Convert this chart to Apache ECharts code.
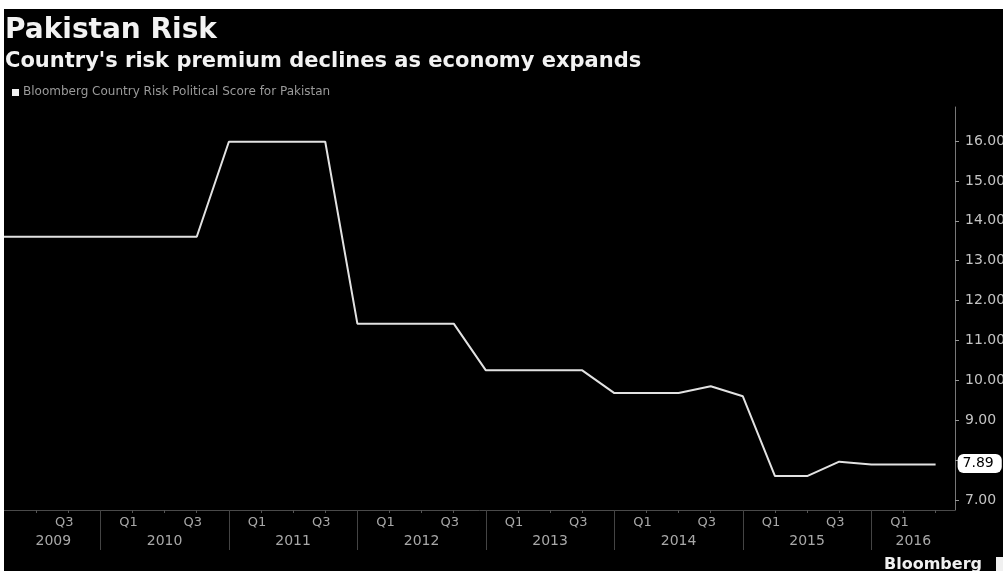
<!DOCTYPE html>
<html>
<head>
<meta charset="utf-8">
<script src="https://cdn.jsdelivr.net/npm/echarts@6/dist/echarts.min.js"></script>
<style>
html,body{margin:0;padding:0;background:#fff;}
#c{width:1003px;height:571px;}
</style>
</head>
<body>
<div id="c"></div>
<script>
// Data: quarterly Bloomberg Country Risk Political Score for Pakistan
const dates = ['2009-04','2009-07','2009-10','2010-01','2010-04','2010-07','2010-10',
  '2011-01','2011-04','2011-07','2011-10','2012-01','2012-04','2012-07','2012-10',
  '2013-01','2013-04','2013-07','2013-10','2014-01','2014-04','2014-07','2014-10',
  '2015-01','2015-04','2015-07','2015-10','2016-01','2016-04','2016-07'];
const scores = [13.6,13.6,13.6,13.6,13.6,13.6,13.6,
  15.98,15.98,15.98,15.98,11.42,11.42,11.42,11.42,
  10.25,10.25,10.25,10.25,9.68,9.68,9.68,9.85,
  9.6,7.6,7.6,7.96,7.89,7.89,7.89];
const yTicks = [7,8,9,10,11,12,13,14,15,16];
const quarterLabelAt = [2009.5,2010,2010.5,2011,2011.5,2012,2012.5,2013,2013.5,2014,2014.5,2015,2015.5,2016];
const quarterTicks = [2009.5,2009.75,2010,2010.25,2010.5,2010.75,2011,2011.25,2011.5,2011.75,2012,2012.25,2012.5,2012.75,2013,2013.25,2013.5,2013.75,2014,2014.25,2014.5,2014.75,2015,2015.25,2015.5,2015.75,2016,2016.25,2016.5];
const yearTicks = [2010,2011,2012,2013,2014,2015,2016];
const yearLabelAt = [2009.634,2010.5,2011.5,2012.5,2013.5,2014.5,2015.5,2016.327];

function toYear(s){const p=s.split('-');return +p[0]+(+p[1]-1)/12;}
const seriesData = dates.map((d,i)=>[toYear(d), scores[i]]);

const chart = echarts.init(document.getElementById('c'), null, {renderer:'canvas'});
const FONT = 'DejaVu Sans';
chart.setOption({
  backgroundColor:'#000',
  animation:false,
  grid:{left:4,right:48,top:107,bottom:61,containLabel:false,outerBoundsMode:'none'},
  xAxis:[{
    type:'value', min:2009.25, max:2016.651, interval:0.25,
    axisLine:{show:true,lineStyle:{color:'#4a4a4a',width:1}},
    axisTick:{show:true,length:3,lineStyle:{color:'#555'},customValues:quarterTicks},
    splitLine:{show:false},
    axisLabel:{show:true,customValues:quarterLabelAt,color:'#a8a8a8',fontFamily:FONT,fontSize:13,
      margin:6,align:'left',padding:[0,0,0,19],hideOverlap:false,
      formatter:function(v){const q=Math.round((v-Math.floor(v))*4);return q===0?'Q1':(q===2?'Q3':'');}}
  },{
    type:'value', min:2009.25, max:2016.651, position:'bottom', interval:0.25,
    axisLine:{show:false},
    axisTick:{show:true,length:40,lineStyle:{color:'#444'},customValues:yearTicks},
    splitLine:{show:false},
    axisLabel:{show:true,customValues:yearLabelAt,color:'#a8a8a8',fontFamily:FONT,fontSize:14,margin:24,
      formatter:function(v){return String(Math.floor(v));}}
  }],
  yAxis:{
    type:'value', position:'right', min:6.749, max:16.852,
    axisLine:{show:true,lineStyle:{color:'#777',width:1}},
    axisTick:{show:true,length:4,lineStyle:{color:'#999'},customValues:yTicks},
    splitLine:{show:false},
    axisLabel:{customValues:yTicks,color:'#c4c4c4',fontFamily:FONT,fontSize:14,margin:10,
      formatter:function(v){return v.toFixed(2);}}
  },
  series:[{
    type:'line', data:seriesData, xAxisIndex:0, showSymbol:false, symbol:'none', z:5,
    lineStyle:{color:'#e2e2e2',width:2},
    endLabel:{show:true,distance:22,formatter:function(p){return p.value[1].toFixed(2);},
      backgroundColor:'#fff',color:'#000',fontFamily:FONT,fontSize:14,padding:[3,8,2,5],borderRadius:6,offset:[0,-1]}
  }],
  graphic:[
    {type:'rect',shape:{x:0,y:0,width:1003,height:9},style:{fill:'#fff'},z:100},
    {type:'rect',shape:{x:0,y:0,width:4,height:571},style:{fill:'#fff'},z:100},
    {type:'text',left:5,top:17,style:{text:'Pakistan Risk',fill:'#f2f2f2',font:'bold 28px "DejaVu Sans"'},z:50},
    {type:'text',left:5,top:51,style:{text:"Country's risk premium declines as economy expands",fill:'#f2f2f2',font:'bold 21px "DejaVu Sans"'},z:50},
    {type:'rect',shape:{x:12,y:89,width:7,height:7},style:{fill:'#f0f0f0'},z:50},
    {type:'text',left:23,top:86,style:{text:'Bloomberg Country Risk Political Score for Pakistan',fill:'#9a9a9a',font:'12px "DejaVu Sans"'},z:50},
    {type:'text',left:884,top:557,style:{text:'Bloomberg',fill:'#f0f0f0',font:'bold 16px "DejaVu Sans"'},z:50},
    {type:'rect',shape:{x:996,y:557,width:12,height:15},style:{fill:'#f0f0f0'},z:50}
  ]
});
</script>
</body>
</html>
